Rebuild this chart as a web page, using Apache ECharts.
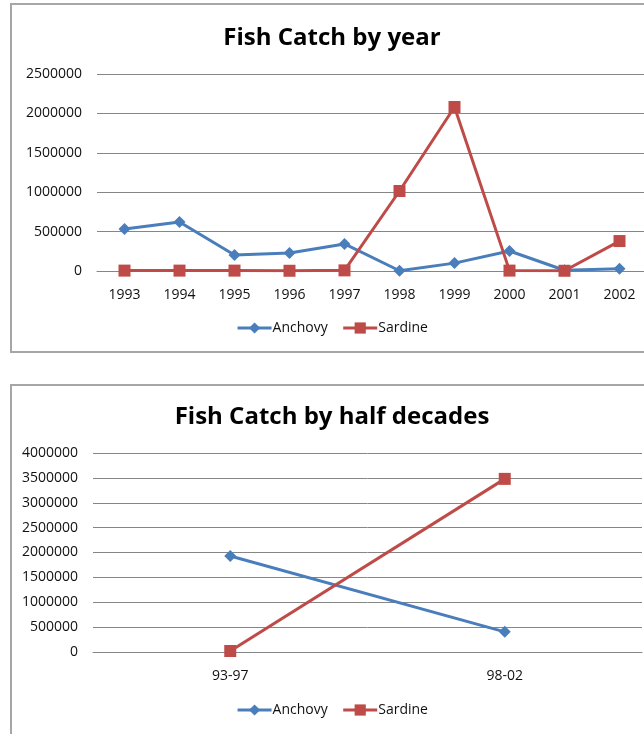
<!DOCTYPE html>
<html>
<head>
<meta charset="utf-8">
<script src="https://cdn.jsdelivr.net/npm/echarts@6/dist/echarts.min.js"></script>
<style>
  html, body { margin: 0; padding: 0; background: #fff; overflow: hidden; }
  body { width: 644px; height: 734px; position: relative; }
  .box {
    position: absolute;
    left: 10px;
    width: 640px;
    height: 346px;
    border: 2px solid #a6a6a6;
    box-sizing: content-box;
  }
  #top { top: 3px; }
  #bottom { top: 384px; height: 360px; }
</style>
</head>
<body>
<div id="top" class="box"></div>
<div id="bottom" class="box"></div>

<script>
// data
var years = ['1993', '1994', '1995', '1996', '1997', '1998', '1999', '2000', '2001', '2002'];
var anchovyYear = [533000, 622000, 203000, 228000, 343000, 3000, 100000, 254000, 10000, 30000];
var sardineYear = [5000, 5000, 5000, 3000, 8000, 1015000, 2081000, 5000, 3000, 380000];

var halves = ['93-97', '98-02'];
var anchovyHalf = [1930000, 405000];
var sardineHalf = [20000, 3480000];

var blue = '#4a7ebb';
var red = '#be4b48';
var font = 'Open Sans';

function makeOption(title, cats, a, s, g, maxY) {
  return {
    animation: false,
    textStyle: { fontFamily: font },
    title: {
      text: title,
      left: 'center',
      top: g.titleTop,
      textStyle: { fontFamily: font, fontWeight: 'bold', fontSize: 24, color: '#000' }
    },
    legend: {
      top: g.legendTop,
      left: 'center',
      itemWidth: 34,
      itemHeight: 14,
      itemGap: 14,
      lineStyle: { width: 3 },
      textStyle: { fontSize: 14, color: '#111', padding: [0, 0, 0, -4] },
      data: ['Anchovy', 'Sardine']
    },
    grid: { left: g.left, top: g.top, width: g.width, height: g.height },
    xAxis: {
      type: 'category',
      data: cats,
      boundaryGap: true,
      axisLine: { lineStyle: { color: '#868686', width: 1 } },
      axisTick: { show: false },
      axisLabel: { color: '#111', fontSize: 14, margin: 17 }
    },
    yAxis: {
      type: 'value',
      min: 0,
      max: maxY,
      interval: 500000,
      axisLine: { show: false },
      axisTick: { show: false },
      axisLabel: { color: '#111', fontSize: 14, margin: 15, formatter: function (v) { return String(v); } },
      splitLine: { lineStyle: { color: '#868686', width: 1 } }
    },
    series: [
      {
        name: 'Anchovy',
        type: 'line',
        data: a,
        symbol: 'diamond',
        symbolSize: 12,
        lineStyle: { color: blue, width: 3 },
        itemStyle: { color: blue }
      },
      {
        name: 'Sardine',
        type: 'line',
        data: s,
        symbol: 'rect',
        symbolSize: 12,
        lineStyle: { color: red, width: 3 },
        itemStyle: { color: red }
      }
    ]
  };
}

var topChart = echarts.init(document.getElementById('top'));
topChart.setOption(makeOption('Fish Catch by year', years, anchovyYear, sardineYear,
  { titleTop: 16, legendTop: 311, left: 85, top: 69, width: 550, height: 197 }, 2500000));

var bottomChart = echarts.init(document.getElementById('bottom'));
bottomChart.setOption(makeOption('Fish Catch by half decades', halves, anchovyHalf, sardineHalf,
  { titleTop: 14, legendTop: 312, left: 81, top: 67, width: 549, height: 199 }, 4000000));
</script>
</body>
</html>
